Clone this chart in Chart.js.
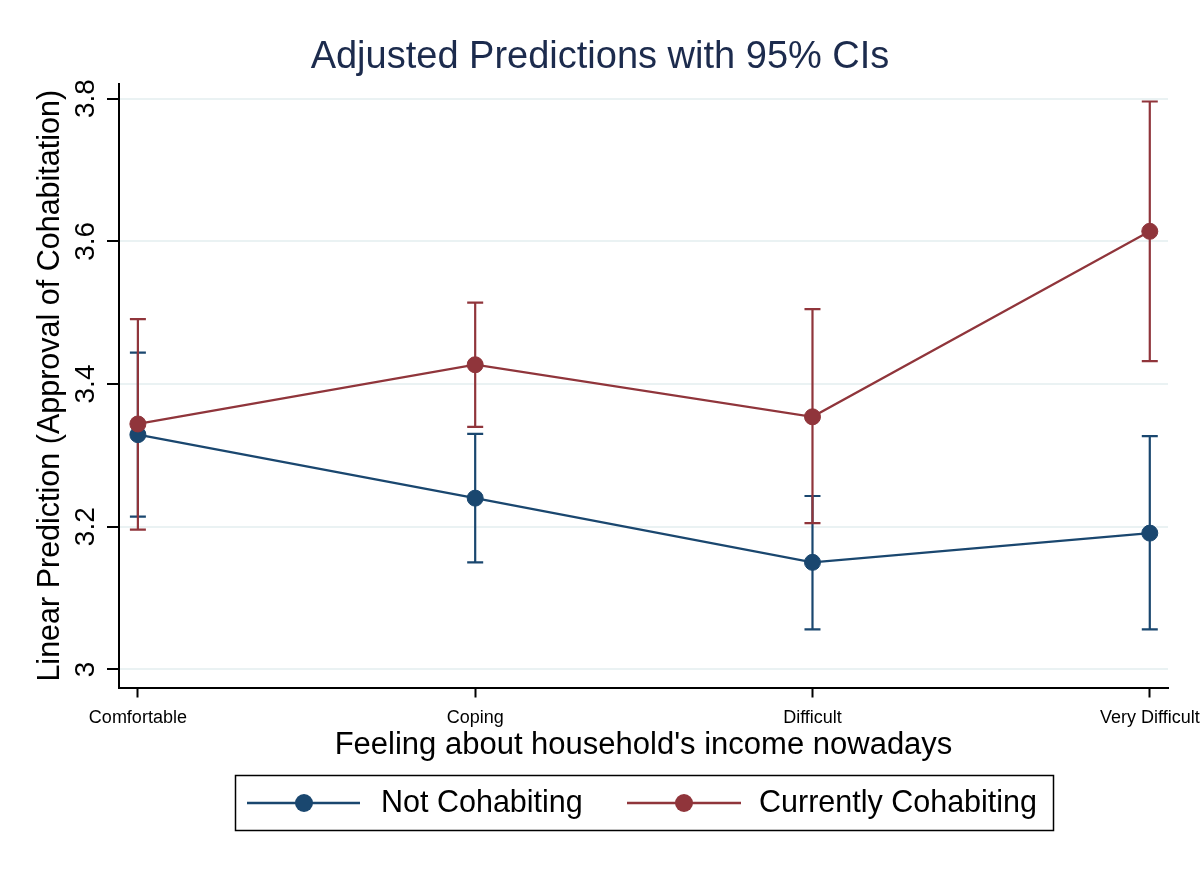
<!DOCTYPE html>
<html>
<head>
<meta charset="utf-8">
<script src="https://cdn.jsdelivr.net/npm/chart.js@4"></script>
<style>
html, body { margin: 0; padding: 0; background: #fff; }
#wrap { width: 1200px; height: 873px; }
</style>
</head>
<body>
<div id="wrap"><canvas id="predChart" width="1200" height="873"></canvas></div>
<script>
// data
const categories = ['Comfortable', 'Coping', 'Difficult', 'Very Difficult'];
const yTicks = [3, 3.2, 3.4, 3.6, 3.8];

const notCohabiting = [3.329, 3.240, 3.150, 3.191];
const notCohabitingLow = [3.214, 3.150, 3.056, 3.056];
const notCohabitingHigh = [3.444, 3.330, 3.243, 3.327];

const cohabiting = [3.344, 3.427, 3.354, 3.614];
const cohabitingLow = [3.196, 3.340, 3.205, 3.432];
const cohabitingHigh = [3.491, 3.514, 3.505, 3.796];

const NAVY = '#1a476f';
const MAROON = '#90353b';
const FONT = '"Liberation Sans", Arial, Helvetica, sans-serif';

Chart.defaults.font.family = FONT;
Chart.defaults.color = '#000';

const toPoints = arr => arr.map((v, i) => ({ x: i, y: v }));

// confidence intervals, drawn under the lines
const errorBars = {
    id: 'errorBars',
    beforeDatasetsDraw(chart) {
        const { ctx, scales: { x, y } } = chart;
        const sets = [
            { color: NAVY, low: notCohabitingLow, high: notCohabitingHigh },
            { color: MAROON, low: cohabitingLow, high: cohabitingHigh }
        ];
        sets.forEach(set => {
            ctx.save();
            ctx.strokeStyle = set.color;
            ctx.lineWidth = 2.2;
            set.low.forEach((lo, i) => {
                const px = x.getPixelForValue(i);
                const y1 = y.getPixelForValue(lo);
                const y2 = y.getPixelForValue(set.high[i]);
                ctx.beginPath();
                ctx.moveTo(px, y1); ctx.lineTo(px, y2);
                ctx.moveTo(px - 8, y1); ctx.lineTo(px + 8, y1);
                ctx.moveTo(px - 8, y2); ctx.lineTo(px + 8, y2);
                ctx.stroke();
            });
            ctx.restore();
        });
    }
};

// title, rotated y tick labels and the boxed legend
const decorations = {
    id: 'decorations',
    afterDraw(chart) {
        const { ctx, scales: { y } } = chart;
        ctx.save();
        ctx.fillStyle = '#1c2b4d';
        ctx.font = '38px ' + FONT;
        ctx.textAlign = 'center';
        ctx.textBaseline = 'middle';
        ctx.fillText('Adjusted Predictions with 95% CIs', 600, 58);

        ctx.fillStyle = '#000';
        ctx.font = '28px ' + FONT;
        y.ticks.forEach(t => {
            ctx.save();
            ctx.translate(86, y.getPixelForValue(t.value));
            ctx.rotate(-Math.PI / 2);
            ctx.fillText(String(t.value), 0, 0);
            ctx.restore();
        });

        // legend
        ctx.strokeStyle = '#000';
        ctx.lineWidth = 1.5;
        ctx.strokeRect(235.5, 775.5, 818, 55);
        const items = [
            { ds: chart.data.datasets[0], x0: 247, x1: 360, cx: 304, tx: 381 },
            { ds: chart.data.datasets[1], x0: 627, x1: 741, cx: 684, tx: 759 }
        ];
        items.forEach(it => {
            ctx.strokeStyle = it.ds.borderColor;
            ctx.lineWidth = 2.5;
            ctx.beginPath();
            ctx.moveTo(it.x0, 803); ctx.lineTo(it.x1, 803);
            ctx.stroke();
            ctx.fillStyle = it.ds.borderColor;
            ctx.beginPath();
            ctx.arc(it.cx, 803, 9, 0, Math.PI * 2);
            ctx.fill();
            ctx.fillStyle = '#000';
            ctx.font = '30.5px ' + FONT;
            ctx.textAlign = 'left';
            ctx.fillText(it.ds.label, it.tx, 804);
        });
        ctx.restore();
    }
};

let ctx = document.getElementById('predChart').getContext('2d');
let predChart = new Chart(ctx, {
    type: 'line',
    data: {
        datasets: [{
            label: 'Not Cohabiting',
            data: toPoints(notCohabiting),
            borderColor: NAVY,
            backgroundColor: NAVY,
            borderWidth: 2.2,
            pointRadius: 8,
            pointBorderWidth: 1,
            order: 1
        }, {
            label: 'Currently Cohabiting',
            data: toPoints(cohabiting),
            borderColor: MAROON,
            backgroundColor: MAROON,
            borderWidth: 2.2,
            pointRadius: 8,
            pointBorderWidth: 1,
            order: 0
        }]
    },
    options: {
        responsive: false,
        animation: false,
        devicePixelRatio: 1,
        layout: { padding: { top: 84, right: 32, bottom: 100, left: 0 } },
        plugins: {
            legend: { display: false },
            tooltip: { enabled: false }
        },
        scales: {
            x: {
                type: 'linear',
                min: -0.056,
                max: 3.054,
                afterBuildTicks: s => { s.ticks = categories.map((c, i) => ({ value: i })); },
                afterFit: s => { s.height = 85.5; s.paddingLeft = 0; s.paddingRight = 0; },
                ticks: {
                    callback: v => categories[v],
                    font: { size: 18 },
                    color: '#000',
                    padding: 9.7,
                    maxRotation: 0,
                    autoSkip: false
                },
                grid: { drawOnChartArea: false, drawTicks: true, tickLength: 10, tickColor: '#000', tickWidth: 2 },
                border: { color: '#000', width: 2 },
                title: {
                    display: true,
                    text: "Feeling about household's income nowadays",
                    font: { size: 31 },
                    color: '#000',
                    padding: { top: 0, bottom: 9 }
                }
            },
            y: {
                min: 2.9746,
                max: 3.8205,
                afterBuildTicks: s => { s.ticks = yTicks.map(v => ({ value: v })); },
                afterFit: s => { s.width = 119; s.paddingTop = 0; s.paddingBottom = 0; },
                ticks: { display: false },
                grid: { color: '#eaf2f3', lineWidth: 2, drawTicks: true, tickLength: 12, tickColor: '#000', tickWidth: 2 },
                border: { color: '#000', width: 2 },
                title: {
                    display: true,
                    text: 'Linear Prediction (Approval of Cohabitation)',
                    font: { size: 30.5 },
                    color: '#000',
                    padding: { top: 32.7, bottom: 0 }
                }
            }
        }
    },
    plugins: [errorBars, decorations]
});
</script>
</body>
</html>
